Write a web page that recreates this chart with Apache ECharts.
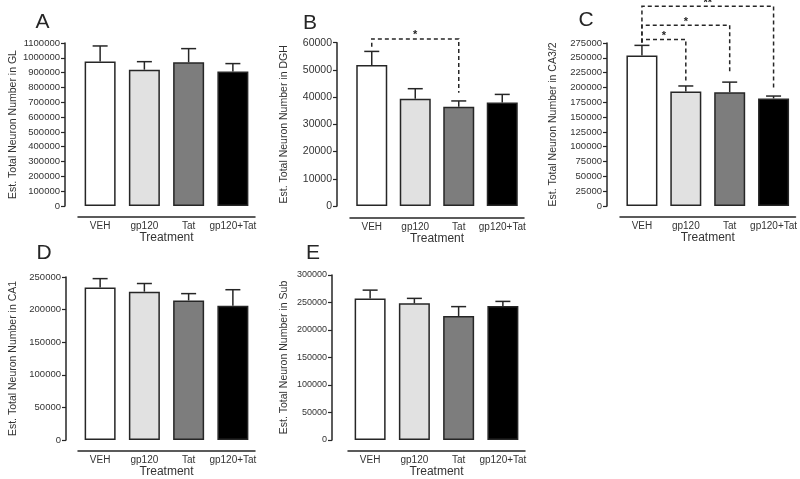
<!DOCTYPE html>
<html><head><meta charset="utf-8">
<script src="https://cdn.jsdelivr.net/npm/echarts@6/dist/echarts.min.js"></script>
<style>html,body{margin:0;padding:0;background:#fff}#c{width:800px;height:479px}</style>
</head><body><div id="c"></div>
<script>
// ---------- data ----------
const categories = ['VEH', 'gp120', 'Tat', 'gp120+Tat'];

const glMean  = [975000, 920000, 970000, 907000];
const glSem   = [105000, 54000, 92000, 54000];
const dghMean = [51800, 39400, 36500, 38000];
const dghSem  = [5000, 3700, 2100, 3000];
const ca3Mean = [254000, 193000, 192000, 181500];
const ca3Sem  = [17000, 9500, 17000, 4000];
const ca1Mean = [234000, 227500, 214000, 206000];
const ca1Sem  = [13500, 12500, 10500, 24500];
const subMean = [257500, 248500, 225500, 243500];
const subSem  = [15000, 9000, 17000, 8500];

// significance brackets: [fromIndex, toIndex, levelValue, leftEndValue, rightEndValue, mark]
const dghBrackets = [[0, 2, 61400, 58500, 41600, '*']];
const ca3Brackets = [
  [0, 1, 281000, 276000, 207000, '*'],
  [0, 2, 305000, 276000, 224000, '*'],
  [0, 3, 337000, 276000, 196000, '**']
];

// axis tick settings [max, interval]
const glAxis  = [1100000, 100000];
const dghAxis = [60000, 10000];
const ca3Axis = [275000, 25000];
const ca1Axis = [250000, 50000];
const subAxis = [300000, 50000];

const yNames = [
  'Est. Total Neuron Number in GL',
  'Est. Total Neuron Number in DGH',
  'Est. Total Neuron Number in CA3/2',
  'Est. Total Neuron Number in CA1',
  'Est. Total Neuron Number in Sub'
];
const panelLetters = ['A', 'B', 'C', 'D', 'E'];
const xName = 'Treatment';

// ---------- styles / layout ----------
const FONT = 'Liberation Sans, Arial, sans-serif';
const INK = '#262626';
const fills = ['#ffffff', '#e1e1e1', '#7d7d7d', '#000000'];

const layout = [
  {left: 78,  top: 43,   width: 177, height: 163,   yOff: 13, xOff: 11, lab: 9.5, gap: 46},
  {left: 350, top: 42.7, width: 174, height: 163.3, yOff: 13, xOff: 12, lab: 10.5, gap: 47},
  {left: 620, top: 43,   width: 176, height: 163,   yOff: 13, xOff: 11, lab: 9.5, gap: 48},
  {left: 78,  top: 277,  width: 177, height: 163,   yOff: 12, xOff: 11, lab: 9.5, gap: 47},
  {left: 348, top: 275,  width: 177, height: 165,   yOff: 16, xOff: 11, lab: 9, gap: 42}
];
const letterPos = [[42.5, 22.5], [310, 23.5], [586, 20.5], [44, 253.5], [313, 253.5]];

const panels = [
  {mean: glMean,  sem: glSem,  axis: glAxis,  brackets: null},
  {mean: dghMean, sem: dghSem, axis: dghAxis, brackets: dghBrackets},
  {mean: ca3Mean, sem: ca3Sem, axis: ca3Axis, brackets: ca3Brackets},
  {mean: ca1Mean, sem: ca1Sem, axis: ca1Axis, brackets: null},
  {mean: subMean, sem: subSem, axis: subAxis, brackets: null}
];

function renderErr(params, api) {
  const x = api.value(0), m = api.value(1), s = api.value(2);
  const p0 = api.coord([x, m]);
  const p1 = api.coord([x, m + s]);
  const hw = 7.5;
  return {type: 'group', children: [
    {type: 'line', shape: {x1: p0[0], y1: p0[1], x2: p1[0], y2: p1[1]}, style: {stroke: INK, lineWidth: 1.5}},
    {type: 'line', shape: {x1: p1[0] - hw, y1: p1[1], x2: p1[0] + hw, y2: p1[1]}, style: {stroke: INK, lineWidth: 1.5}}
  ]};
}

function makeBracketRenderer(list) {
  return function (params, api) {
    const b = list[params.dataIndex];
    const pA = api.coord([b[0], b[3]]);
    const pL = api.coord([b[0], b[2]]);
    const pR = api.coord([b[1], b[2]]);
    const pB = api.coord([b[1], b[4]]);
    return {type: 'group', children: [
      {type: 'polyline', shape: {points: [pA, pL, pR, pB]},
       style: {stroke: INK, lineWidth: 1.5, lineDash: [4, 3], fill: null}},
      {type: 'text', x: (pL[0] + pR[0]) / 2, y: pL[1] + 2,
       style: {text: b[5], textAlign: 'center', textVerticalAlign: 'bottom', fontSize: 11, fontWeight: 'bold', fill: INK, fontFamily: FONT}}
    ]};
  };
}

const grids = [], xAxes = [], yAxes = [], series = [], graphics = [];
panels.forEach((p, i) => {
  const L = layout[i];
  grids.push({left: L.left, top: L.top, width: L.width, height: L.height, containLabel: false});
  xAxes.push({
    type: 'category', gridIndex: i, data: categories, offset: L.xOff,
    axisLine: {onZero: false, lineStyle: {color: INK, width: 1.5}}, axisTick: {show: false},
    axisLabel: {fontSize: 10, color: '#333', margin: 4, fontFamily: FONT, interval: 0},
    name: xName, nameLocation: 'middle', nameGap: 15,
    nameTextStyle: {fontSize: 12, color: '#333', fontFamily: FONT}
  });
  yAxes.push({
    type: 'value', gridIndex: i, min: 0, max: p.axis[0], interval: p.axis[1], offset: L.yOff,
    axisLine: {show: true, onZero: false, lineStyle: {color: INK, width: 1.5}},
    axisTick: {show: true, length: 4, lineStyle: {color: INK, width: 1.2}},
    splitLine: {show: false},
    axisLabel: {fontSize: L.lab, color: '#333', margin: 5, fontFamily: FONT, formatter: v => String(v)},
    name: yNames[i], nameLocation: 'middle', nameGap: L.gap, nameRotate: 90,
    nameTextStyle: {fontSize: 10.5, color: '#333', fontFamily: FONT}
  });
  series.push({
    type: 'bar', xAxisIndex: i, yAxisIndex: i, barWidth: 31,
    data: p.mean.map((v, k) => ({value: v, itemStyle: {color: fills[k]}})),
    itemStyle: {borderColor: INK, borderWidth: 1.5},
    emphasis: {disabled: true}, z: 2
  });
  series.push({
    type: 'custom', xAxisIndex: i, yAxisIndex: i, clip: false,
    data: p.mean.map((v, k) => [k, v, p.sem[k]]),
    encode: {x: 0, y: 1}, renderItem: renderErr, z: 3
  });
  if (p.brackets) {
    series.push({
      type: 'custom', xAxisIndex: i, yAxisIndex: i, clip: false,
      data: p.brackets.map(b => [b[0], b[1], b[2], b[3], b[4]]),
      encode: {x: 0, y: 2}, renderItem: makeBracketRenderer(p.brackets), z: 4
    });
  }
  graphics.push({
    type: 'text', x: letterPos[i][0], y: letterPos[i][1],
    style: {text: panelLetters[i], fontSize: 21, fill: INK, fontFamily: FONT, textAlign: 'center', textVerticalAlign: 'middle'}
  });
});

const chart = echarts.init(document.getElementById('c'), null, {renderer: 'canvas'});
chart.setOption({
  animation: false,
  backgroundColor: '#fff',
  grid: grids, xAxis: xAxes, yAxis: yAxes, series: series,
  graphic: graphics
});
</script></body></html>
